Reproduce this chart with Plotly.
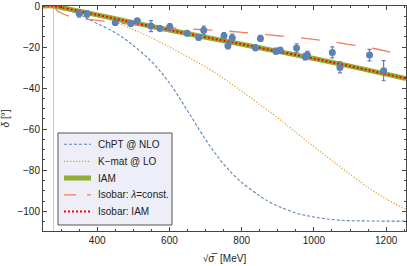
import plotly.graph_objects as go

# ---- data ----
thr = 279.1
chpt_x = [250, thr, 300, 350, 371, 400, 450, 491, 550, 600, 650, 700, 750, 794, 850, 886, 950, 1000, 1069, 1150, 1255]
chpt_y = [0, 0, -1, -4, -6, -8.5, -13, -18, -27, -37.5, -51, -65, -77, -85, -92.5, -96.3, -100.8, -102.8, -104.3, -104.7, -104.8]

kmat_x = [250, thr, 350, 400, 450, 500, 550, 600, 650, 700, 750, 800, 850, 900, 950, 1000, 1050, 1100, 1150, 1200, 1255]
kmat_y = [0, 0, -2, -4.5, -7.7, -11.5, -15.5, -20, -24.7, -29.7, -35.3, -41.5, -48, -54.5, -61.5, -68.5, -75.3, -82, -88.3, -94, -99]

iam_x = [250, thr, 300, 350, 400, 450, 500, 600, 700, 800, 900, 1000, 1100, 1200, 1255]
iam_y = [0, 0, -0.7, -2.5, -4.3, -6.2, -8.1, -11.7, -15.2, -18.6, -22.1, -25.6, -29.3, -33.2, -35.3]

isoc_x = [thr, 290, 300, 320, 350, 400, 450, 500, 550, 600, 650, 700, 750, 800, 850, 900, 950, 1000, 1050, 1100, 1150, 1200, 1255]
isoc_y = [0, -2.3, -3.4, -4.8, -5.9, -7.0, -8.1, -9.0, -9.8, -10.5, -11.1, -11.6, -12.1, -12.8, -13.6, -14.5, -15.3, -16.3, -17.4, -18.8, -20.2, -22.0, -24.3]

data_x = [350, 372, 450, 493, 511, 549, 574, 601, 649, 681, 695, 751, 762, 774, 838, 852, 895, 907, 952, 976, 982, 1051, 1072, 1154, 1193]
data_y = [-3.6, -3.9, -8.0, -8.5, -7.2, -9.8, -10.9, -10.1, -13.3, -15.3, -11.8, -14.5, -19.4, -15.5, -20.3, -15.8, -22.0, -21.6, -20.5, -24.7, -23.9, -22.6, -29.9, -23.9, -31.5]
data_err = [1.8, 1.5, 1.3, 1.3, 1.0, 2.7, 1.0, 1.5, 1.2, 1.2, 2.0, 1.5, 1.5, 1.8, 1.4, 1.5, 1.5, 1.5, 2.1, 1.6, 1.8, 2.7, 2.7, 2.8, 4.9]

x_ticks = [400, 600, 800, 1000, 1200]
y_ticks = [0, -20, -40, -60, -80, -100]

series_names = ["ChPT @ NLO", "K\u2212mat @ LO", "IAM", "Isobar: <i>λ</i>=const.", "Isobar: IAM"]

FONT = "Liberation Sans, Arial, sans-serif"

styles = [
    dict(color="#5E81B5", width=1.1, dash="3px,2px"),
    dict(color="#E19C24", width=1.2, dash="1.2px,1.8px"),
    dict(color="#8FB032", width=5, dash="solid"),
    dict(color="#EF7F5F", width=1.3, dash="19px,17px"),
    dict(color="#FF0000", width=2, dash="2px,2px"),
]
curves = [(chpt_x, chpt_y), (kmat_x, kmat_y), (iam_x, iam_y), (isoc_x, isoc_y), (iam_x, iam_y)]

fig = go.Figure()
for (cx, cy), st, nm in zip(curves, styles, series_names):
    fig.add_trace(go.Scatter(x=cx, y=cy, mode="lines", name=nm, showlegend=False,
                             line=dict(shape="spline", **st)))
fig.add_trace(go.Scatter(x=data_x, y=data_y, mode="markers", showlegend=False,
                         marker=dict(color="#5E81B5", size=7),
                         error_y=dict(type="data", array=data_err, color="#5E81B5", thickness=1.2, width=2)))

axis_common = dict(showline=True, linecolor="#444", linewidth=1, mirror="allticks",
                   ticks="inside", ticklen=4, tickcolor="#444", showgrid=False, zeroline=False,
                   automargin=False,
                   tickfont=dict(family=FONT, size=10, color="#222"))

fig.update_xaxes(range=[250, 1255], tickvals=x_ticks, ticktext=[str(v) for v in x_ticks],
                 minor=dict(ticks="inside", ticklen=2, dtick=50, tick0=0, tickcolor="#444", showgrid=False),
                 title=dict(text="√σ̅  [MeV]", font=dict(family=FONT, size=10, color="#222"), standoff=9),
                 **axis_common)
fig.update_yaxes(range=[-109.6, 0], tickvals=y_ticks, ticktext=["0", "\u221220", "\u221240", "\u221260", "\u221280", "\u2212100"],
                 minor=dict(ticks="inside", ticklen=2, dtick=5, tick0=0, tickcolor="#444", showgrid=False),
                 title=dict(text="<i>δ</i> [°]", font=dict(family=FONT, size=10, color="#222"), standoff=6),
                 **axis_common)

fig.add_shape(type="line", x0=thr, x1=thr, y0=0, y1=1, xref="x", yref="paper",
              line=dict(color="#C8C8C8", width=1), layer="below")

# ---- hand-built legend (pixel layout converted to paper coords) ----
PL, PR, PT, PB = 43, 406, 6, 231
def px(x):
    return (x - PL) / (PR - PL)
def py(y):
    return (PB - y) / (PB - PT)

fig.add_shape(type="rect", xref="paper", yref="paper",
              x0=px(58), x1=px(172), y0=py(225), y1=py(133),
              fillcolor="#EEEEF8", line=dict(color="#555", width=1), layer="above")
legend_rows = [144.3, 161.3, 178, 194.8, 211.5]
legend_dash = ["3px,2px", "1.2px,1.8px", "solid", "12px,11px", "2px,2px"]
for row, st, dsh, nm in zip(legend_rows, styles, legend_dash, series_names):
    fig.add_shape(type="line", xref="paper", yref="paper",
                  x0=px(64), x1=px(91), y0=py(row), y1=py(row),
                  line=dict(color=st["color"], width=st["width"], dash=dsh), layer="above")
    fig.add_annotation(xref="paper", yref="paper", x=px(96), y=py(row),
                       xanchor="left", yanchor="middle", text=nm, showarrow=False,
                       font=dict(family=FONT, size=10, color="#222"))

fig.update_layout(
    width=407, height=266,
    margin=dict(l=PL, r=407 - PR, t=PT, b=266 - PB, autoexpand=False),
    plot_bgcolor="white", paper_bgcolor="white",
    font=dict(family=FONT, size=10, color="#222"),
    showlegend=False,
)

fig.write_html("out.html", config={"displayModeBar": False},
               post_script="document.body.style.margin='0';document.body.style.padding='0';")
